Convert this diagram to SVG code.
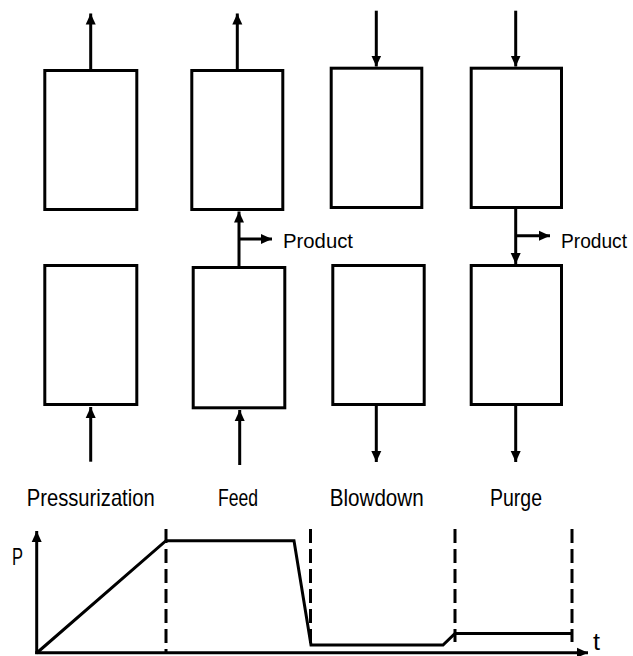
<svg xmlns="http://www.w3.org/2000/svg" width="633" height="656" viewBox="0 0 633 656">
<style>
.box{fill:#fff;stroke:#000;stroke-width:3}
.ln{fill:none;stroke:#000;stroke-width:3}
.ar{fill:none;stroke:#000;stroke-width:3;marker-end:url(#ah)}
.dash{fill:none;stroke:#000;stroke-width:3;stroke-dasharray:14 6}
text{font-family:"Liberation Sans",Arial,sans-serif;font-size:24px;fill:#000}
.prod{font-size:21px}
</style>
<defs>
<marker id="ah" markerUnits="userSpaceOnUse" markerWidth="12" markerHeight="12" viewBox="0 0 12 12" refX="11" refY="6" orient="auto">
<path d="M0,1 L11,6 L0,11 Z" fill="#000"/>
</marker>
</defs>
<g id="pres-top"><rect class="box" x="44.8" y="70.5" width="92" height="139"/></g>
<g id="feed-top"><rect class="box" x="191.8" y="70.5" width="91" height="139"/></g>
<g id="blow-top"><rect class="box" x="331.2" y="68.2" width="90.6" height="139.3"/></g>
<g id="purge-top"><rect class="box" x="471.2" y="68.2" width="90.3" height="139.3"/></g>
<g id="pres-bot"><rect class="box" x="44.8" y="265.5" width="92" height="139"/></g>
<g id="feed-bot"><rect class="box" x="193.2" y="267.5" width="91.6" height="140.3"/></g>
<g id="blow-bot"><rect class="box" x="332.8" y="265.5" width="91.4" height="139"/></g>
<g id="purge-bot"><rect class="box" x="471.2" y="265.5" width="90.3" height="139"/></g>
<g id="connectors">
<path class="ar" d="M90.7,69 V13.5"/>
<path class="ar" d="M237.3,69 V13.5"/>
<path class="ar" d="M376.3,10.7 V66.5"/>
<path class="ar" d="M515.7,10.7 V66.5"/>
<path class="ar" d="M239,266 V211.5"/>
<path class="ar" d="M239,239 H272"/>
<path class="ar" d="M515.7,209 V264"/>
<path class="ar" d="M515.7,235.7 H550"/>
<path class="ar" d="M90.7,461.7 V407"/>
<path class="ar" d="M239.7,465 V410"/>
<path class="ar" d="M376.3,406 V462"/>
<path class="ar" d="M515.7,406 V462"/>
</g>
<g id="labels">
<text class="prod" x="283" y="248" textLength="70" lengthAdjust="spacingAndGlyphs">Product</text>
<text class="prod" x="561" y="248" textLength="66" lengthAdjust="spacingAndGlyphs">Product</text>
<text x="26.7" y="506" textLength="128" lengthAdjust="spacingAndGlyphs">Pressurization</text>
<text x="218" y="506" textLength="40" lengthAdjust="spacingAndGlyphs">Feed</text>
<text x="329.7" y="506" textLength="94" lengthAdjust="spacingAndGlyphs">Blowdown</text>
<text x="490" y="506" textLength="52" lengthAdjust="spacingAndGlyphs">Purge</text>
<text x="12" y="565" textLength="11" lengthAdjust="spacingAndGlyphs">P</text>
<text x="593" y="650" textLength="7" lengthAdjust="spacingAndGlyphs">t</text>
</g>
<g id="plot">
<path class="dash" d="M166,529 V653"/>
<path class="dash" d="M310.5,529 V645"/>
<path class="dash" d="M455,529 V642"/>
<path class="dash" d="M572,529 V642"/>
<path class="ar" d="M36.7,654 V531"/>
<path class="ar" d="M35.2,652.7 H588"/>
<path class="ln" stroke-linejoin="miter" d="M36.7,653 L166,540.7 L294,540.7 L311,645 L443,645 L455,633.5 L572,633.5"/>
</g>
</svg>
